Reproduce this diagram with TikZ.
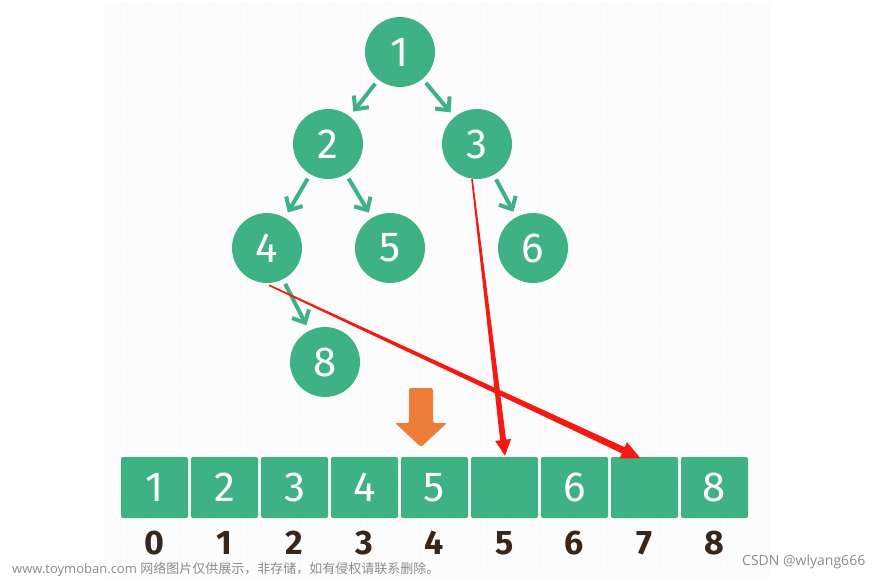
\documentclass[tikz,border=0pt]{standalone}
\usepackage{fontspec}
\setmainfont{Fira Sans}
\newfontfamily\cjk{Noto Sans CJK SC}
\newfontfamily\wm{Open Sans}
\usetikzlibrary{arrows.meta,calc}
\definecolor{tgreen}{RGB}{62,178,132}
\definecolor{torange}{RGB}{238,125,58}
\definecolor{tred}{RGB}{245,25,20}
\definecolor{tbrown}{RGB}{55,38,25}
\definecolor{wmgray}{RGB}{140,140,140}
\newcommand\taperarrow[6]{%
  \path ($(#2)!#5!(#1)$) coordinate (tb);
  \fill[tred] ($(#1)!#3!90:(#2)$) -- ($(tb)!#4!-90:(#1)$) -- ($(tb)!#6!-90:(#1)$) -- (#2)
     -- ($(tb)!#6!90:(#1)$) -- ($(tb)!#4!90:(#1)$) -- ($(#1)!#3!-90:(#2)$) -- cycle;
}
\begin{document}
\begin{tikzpicture}[x=1pt,y=-1pt,
  tnode/.style={circle,fill=tgreen,minimum size=70pt,inner sep=0pt,text=white,
    font=\fontsize{42}{42}\selectfont},
  garrow/.style={draw=tgreen,line width=4pt,-{Straight Barb[length=10pt,width=19pt]},
    shorten <=5pt, shorten >=6pt},
  cell/.style={fill=tgreen,rounded corners=2pt,minimum width=67pt,minimum height=61pt,
    inner sep=0pt,text=white,font=\fontsize{42}{42}\selectfont},
  idx/.style={text=tbrown,font=\fontsize{34}{34}\selectfont\bfseries},
  wmark/.style={text=wmgray,inner sep=0pt,anchor=west,font=\fontsize{13}{13}\selectfont\wm}
]
\useasboundingbox (0,0) rectangle (883,579);
\fill[white] (0,0) rectangle (883,579);
% faint paper panel
\fill[black!1] (104,2) rectangle (771,579);
\draw[black!2.2,line width=0.6pt] (104,2) grid[step=30pt] (771,579);

% tree nodes
\node[tnode] (n1) at (400,52) {1};
\node[tnode] (n2) at (328,144) {2};
\node[tnode] (n3) at (477,144) {3};
\node[tnode] (n4) at (267,248) {4};
\node[tnode] (n5) at (390,248) {5};
\node[tnode] (n6) at (533,248) {6};
\node[tnode] (n8) at (325,362) {8};

\draw[garrow] (n1) -- (n2);
\draw[garrow] (n1) -- (n3);
\draw[garrow] (n2) -- (n4);
\draw[garrow] (n2) -- (n5);
\draw[garrow] (n3) -- (n6);
\draw[garrow] (n4) -- (n8);

% orange arrow
\fill[torange,rounded corners=1.5pt] (409,388) -- (433,388) -- (433,423) -- (447,423)
  -- (421,447) -- (395,423) -- (409,423) -- cycle;

% array
\foreach \i/\v in {0/1,1/2,2/3,3/4,4/5,5/{},6/6,7/{},8/8}{
  \node[cell] (c\i) at ({154.5+70*\i},487.5) {\v};
  \node[idx] (i\i) at ({154.5+70*\i},543) {\i};
}

% red arrows
\coordinate (r1s) at ($(n3.south)+(-5,0)$);
\coordinate (r1e) at ($(c5.north)+(0.5,-1)$);
\coordinate (r2s) at ($(n4.south)+(2,2)$);
\coordinate (r2e) at ($(c7.north)+(-4,1.5)$);
\taperarrow{r1s}{r1e}{0.8pt}{3pt}{16pt}{8pt}
\taperarrow{r2s}{r2e}{0.8pt}{3.4pt}{19pt}{9pt}

% watermarks
\node[wmark] (wm1) at (12,570) {www.toymoban.com {\cjk 网络图片仅供展示，非存储，如有侵权请联系删除。}};
\node[wmark,font=\fontsize{14}{14}\selectfont\wm] (wm2) at (742,562) {CSDN @wlyang666};
\end{tikzpicture}
\end{document}
